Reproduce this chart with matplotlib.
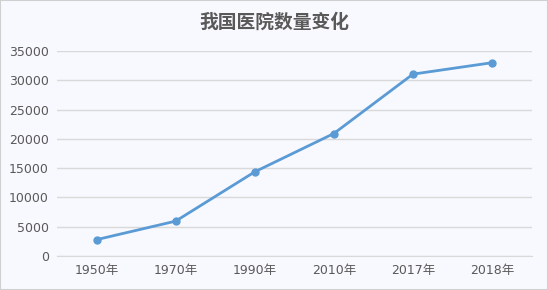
import matplotlib
matplotlib.use('Agg')
import matplotlib.pyplot as plt
from matplotlib.patches import Rectangle

# 数据
years = ['1950年', '1970年', '1990年', '2010年', '2017年', '2018年']
hospitals = [2803, 5964, 14377, 20918, 31056, 33009]
yticks = [0, 5000, 10000, 15000, 20000, 25000, 30000, 35000]

plt.rcParams['font.family'] = ['DejaVu Sans', 'Noto Sans CJK SC']
text_color = '#595959'
grid_color = '#D9D9D9'
bg = '#F8F9FE'

fig = plt.figure(figsize=(5.48, 2.90), dpi=100, facecolor=bg)
ax = fig.add_axes([0.104, 0.117, 0.866, 0.707])
ax.set_facecolor(bg)

x = range(len(years))
ax.plot(x, hospitals, color='#5B9BD5', linewidth=2.0, marker='o', markersize=5)

ax.set_xlim(-0.5, len(years) - 0.5)
ax.set_ylim(0, 35000)
ax.set_xticks(list(x))
ax.set_xticklabels(years)
ax.set_yticks(yticks)
ax.set_yticklabels([str(v) for v in yticks])
ax.tick_params(colors=text_color, labelsize=9, length=0, pad=6)
ax.yaxis.grid(True, color=grid_color, linewidth=1)
ax.set_axisbelow(True)
for s in ['top', 'right', 'left']:
    ax.spines[s].set_visible(False)
ax.spines['bottom'].set_color(grid_color)

fig.text(0.5, 0.925, '我国医院数量变化', ha='center', va='center', fontsize=13.5,
         color=text_color, fontweight='bold', family=['Noto Sans CJK SC', 'DejaVu Sans'])

fig.patches.append(Rectangle((0, 0), 1, 1, transform=fig.transFigure, fill=False,
                             edgecolor='#D0D0D0', linewidth=1.5))

fig.savefig('out.png', dpi=100, facecolor=bg)
